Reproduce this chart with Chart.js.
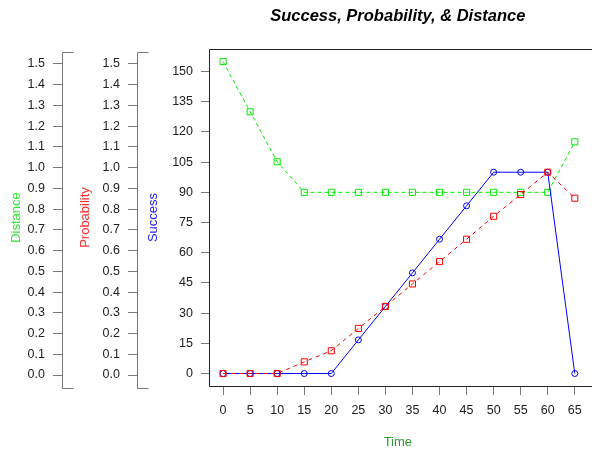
<!DOCTYPE html>
<html lang="en">
<head>
<meta charset="UTF-8">
<title>Success, Probability, & Distance</title>
<script src="https://cdn.jsdelivr.net/npm/chart.js"></script>
<style>
    html, body { margin: 0; padding: 0; background: #fff; }
    #wrap { width: 592px; height: 450px; }
</style>
</head>
<body>
<div id="wrap"><canvas id="chart" width="592" height="450"></canvas></div>
<script>
// values, in units of the main (Success) axis
const times = [0, 5, 10, 15, 20, 25, 30, 35, 40, 45, 50, 55, 60, 65];
const success = [0, 0, 0, 0, 0, 16.7, 33.3, 50, 66.7, 83.3, 100, 100, 100, 0];
const probability = [0, 0, 0, 5.8, 11.3, 22.4, 33.3, 44.5, 55.6, 66.7, 78.1, 88.9, 100, 87.1];
const distance = [155, 130, 105.2, 90, 90, 90, 90, 90, 90, 90, 90, 90, 90, 115.1];

const xTicks = [0, 5, 10, 15, 20, 25, 30, 35, 40, 45, 50, 55, 60, 65];
const mainTicks = [0, 15, 30, 45, 60, 75, 90, 105, 120, 135, 150];
const sideTicks = [0, 0.1, 0.2, 0.3, 0.4, 0.5, 0.6, 0.7, 0.8, 0.9, 1.0, 1.1, 1.2, 1.3, 1.4, 1.5];

const FONT = '"Liberation Sans", Arial, sans-serif';
const tickGray = '#7a7a7a';
const tickFont = { family: FONT, size: 12.5 };
const titleFont = { family: FONT, size: 13 };

function pts(ys) {
    return times.map((t, i) => ({ x: t, y: ys[i] }));
}

function useTicks(list) {
    return scale => { scale.ticks = list.map(v => ({ value: v })); };
}

function fixWidth(w) {
    return scale => { scale.width = w; };
}

function sideAxis(title, color, weight, width, titlePad) {
    return {
        position: 'left',
        weight: weight,
        min: -0.053,
        max: 1.572,
        afterBuildTicks: useTicks(sideTicks),
        afterFit: fixWidth(width),
        grid: { drawOnChartArea: false, drawTicks: true, tickLength: 9, color: tickGray },
        border: { display: false },
        ticks: {
            padding: 8,
            color: '#222',
            font: tickFont,
            callback: v => v.toFixed(1)
        },
        title: {
            display: true,
            text: title,
            color: color,
            font: titleFont,
            padding: { top: titlePad, bottom: 0 }
        }
    };
}

// box around the plot (no right side, it runs off the page) and the bracket axes
const framePlugin = {
    id: 'frame',
    afterDraw(chart) {
        const ctx = chart.ctx;
        const a = chart.chartArea;
        ctx.save();
        ctx.strokeStyle = '#222';
        ctx.lineWidth = 1;
        ctx.beginPath();
        ctx.moveTo(chart.width + 2, a.top + 0.5);
        ctx.lineTo(a.left + 0.5, a.top + 0.5);
        ctx.lineTo(a.left + 0.5, a.bottom + 0.5);
        ctx.lineTo(chart.width + 2, a.bottom + 0.5);
        ctx.stroke();

        ctx.strokeStyle = tickGray;
        ['yDist', 'yProb'].forEach(id => {
            const s = chart.scales[id];
            const x = s.right + 0.5;
            const y0 = s.top + 3.5, y1 = s.bottom + 2.5;
            ctx.beginPath();
            ctx.moveTo(x + 11, y0);
            ctx.lineTo(x, y0);
            ctx.lineTo(x, y1);
            ctx.lineTo(x + 11, y1);
            ctx.stroke();
        });
        ctx.restore();
    }
};

new Chart(document.getElementById('chart'), {
    type: 'line',
    data: {
        datasets: [
            {
                label: 'Probability',
                data: pts(probability),
                borderColor: '#ff0000',
                borderWidth: 1,
                borderDash: [4, 4],
                pointStyle: 'rect',
                pointRadius: 4.3,
                pointBorderColor: '#ff0000',
                pointBackgroundColor: 'rgba(0,0,0,0)',
                pointBorderWidth: 1,
                fill: false,
                tension: 0,
                order: 0
            },
            {
                label: 'Success',
                data: pts(success),
                borderColor: '#0000ff',
                borderWidth: 1,
                pointStyle: 'circle',
                pointRadius: 3,
                pointBorderColor: '#0000ff',
                pointBackgroundColor: 'rgba(0,0,0,0)',
                pointBorderWidth: 1,
                fill: false,
                tension: 0,
                order: 1
            },
            {
                label: 'Distance',
                data: pts(distance),
                borderColor: '#00ee00',
                borderWidth: 1,
                borderDash: [4, 3],
                pointStyle: 'rect',
                pointRadius: 4.3,
                pointBorderColor: '#00ee00',
                pointBackgroundColor: 'rgba(0,0,0,0)',
                pointBorderWidth: 1,
                fill: false,
                tension: 0,
                order: 2
            }
        ]
    },
    options: {
        responsive: false,
        animation: false,
        layout: { padding: 0 },
        plugins: {
            legend: { display: false },
            tooltip: { enabled: false },
            title: {
                display: true,
                fullSize: false,
                text: 'Success, Probability, & Distance',
                color: '#000',
                font: { family: FONT, size: 16.5, weight: 'bold', style: 'italic', lineHeight: 1.2 },
                padding: { top: 7, bottom: 22.2 }
            }
        },
        scales: {
            x: {
                type: 'linear',
                min: -2.6,
                max: 67.2,
                afterBuildTicks: useTicks(xTicks),
                afterFit: scale => { scale.height = 64; },
                grid: { drawOnChartArea: false, drawTicks: true, tickLength: 9, color: tickGray },
                border: { display: false },
                ticks: { padding: 8, color: '#222', font: tickFont, maxRotation: 0 },
                title: {
                    display: true,
                    text: 'Time',
                    color: '#2e9a2e',
                    font: titleFont,
                    padding: { top: 0, bottom: 0 }
                }
            },
            y: {
                position: 'left',
                weight: 0,
                min: -6.2,
                max: 161.2,
                afterBuildTicks: useTicks(mainTicks),
                afterFit: fixWidth(72),
                grid: { drawOnChartArea: false, drawTicks: true, tickLength: 8, color: tickGray },
                border: { display: false },
                ticks: { padding: 8, color: '#222', font: tickFont },
                title: {
                    display: true,
                    text: 'Success',
                    color: '#2020ff',
                    font: titleFont,
                    padding: { top: 9, bottom: 0 }
                }
            },
            yProb: sideAxis('Probability', '#ff3030', 1, 75, 16),
            yDist: sideAxis('Distance', '#30e830', 2, 62, 9)
        }
    },
    plugins: [framePlugin]
});
</script>
</body>
</html>
